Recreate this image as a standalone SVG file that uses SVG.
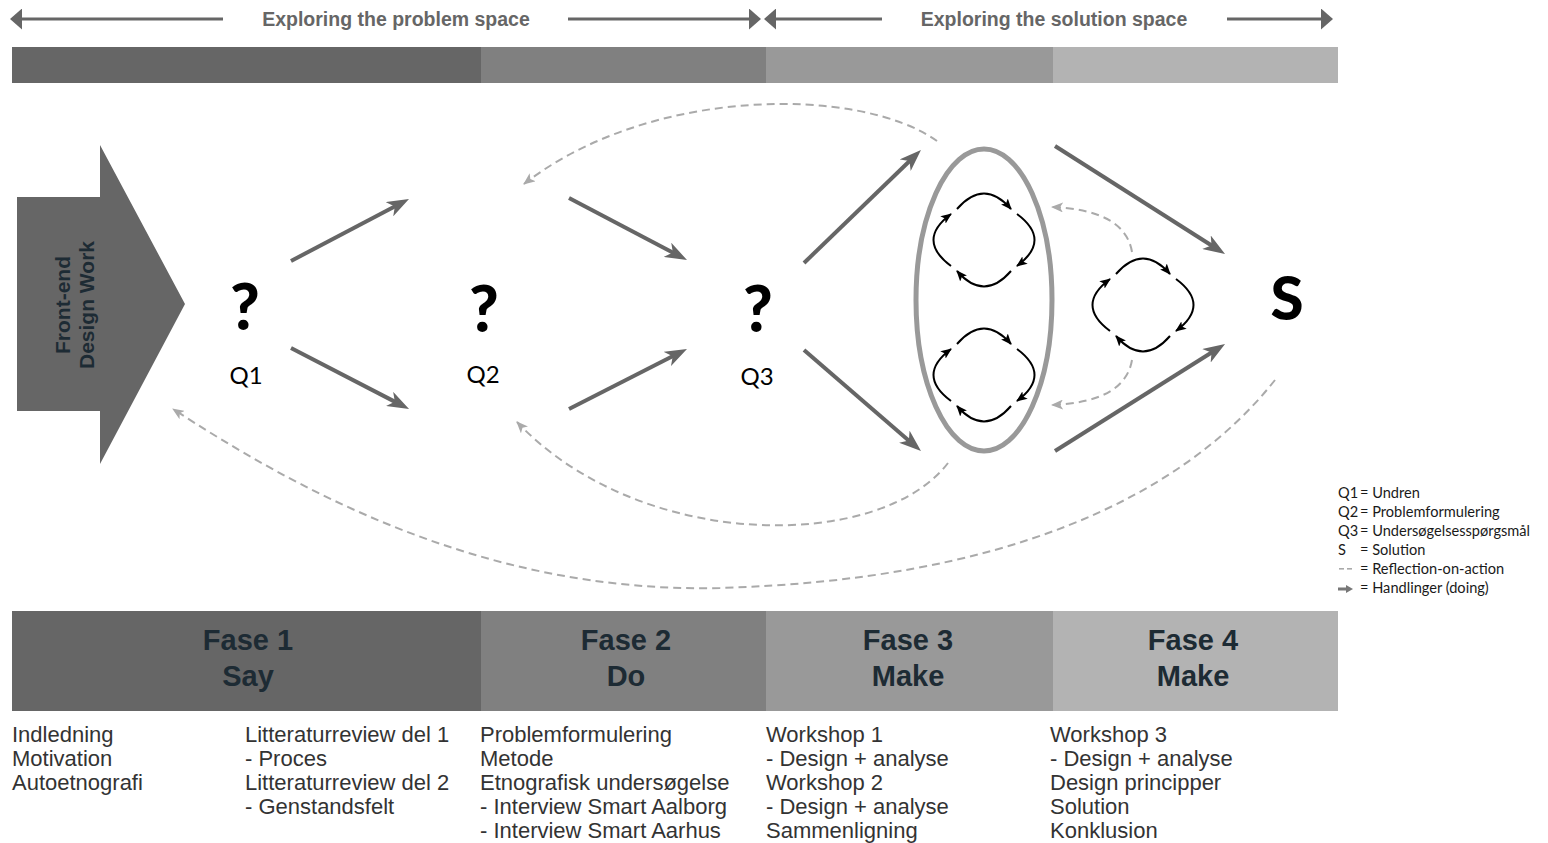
<svg xmlns="http://www.w3.org/2000/svg" width="1548" height="843" viewBox="0 0 1548 843">
  <style>
    .sans { font-family: "Liberation Sans", Arial, sans-serif; }
    .cal { font-family: Lato, "Open Sans", sans-serif; }
    .hdr { font-size: 19.5px; font-weight: bold; fill: #666666; }
    .phase { font-size: 29px; font-weight: bold; fill: #1d2b34; text-anchor: middle; }
    .body { font-size: 22px; fill: #333333; }
    .q { font-size: 64px; font-weight: 900; fill: #000; text-anchor: middle; }
    .ql { font-size: 24px; fill: #000; text-anchor: middle; }
    .leg { font-size: 14.6px; fill: #1a1a1a; }
    .act { stroke: #666666; stroke-width: 4; fill: none; marker-end: url(#headAct); }
    .refl { stroke: #aaaaaa; stroke-width: 2; fill: none; stroke-dasharray: 8 5; marker-end: url(#headRefl); }
    .loop path { stroke: #000; stroke-width: 2; fill: none; marker-end: url(#headLoop); }
    .span { stroke: #666666; stroke-width: 3; }
  </style>
  <defs>
    <!-- heavy action arrowhead (notched) -->
    <marker id="headAct" viewBox="0 0 22 16" refX="8" refY="8" markerWidth="22" markerHeight="16" markerUnits="userSpaceOnUse" orient="auto">
      <path d="M0,0 L22,8 L0,16 L6,8 Z" fill="#666666"/>
    </marker>
    <!-- reflection arrowhead -->
    <marker id="headRefl" viewBox="0 0 12 10" refX="11" refY="5" markerWidth="12" markerHeight="10" markerUnits="userSpaceOnUse" orient="auto">
      <path d="M0,0 L12,5 L0,10 L3,5 Z" fill="#aaaaaa"/>
    </marker>
    <!-- small loop arrowhead -->
    <marker id="headLoop" viewBox="0 0 11 9" refX="10" refY="4.5" markerWidth="11" markerHeight="9" markerUnits="userSpaceOnUse" orient="auto">
      <path d="M0,0 L11,4.5 L0,9 L2.5,4.5 Z" fill="#000"/>
    </marker>
    <!-- span arrowhead for the header -->
    <marker id="headSpan" viewBox="0 0 12 21" refX="6" refY="10.5" markerWidth="12" markerHeight="21" markerUnits="userSpaceOnUse" orient="auto-start-reverse">
      <path d="M0,0 L12,10.5 L0,21 Z" fill="#666666"/>
    </marker>
    <!-- iteration cycle: four arcs turning clockwise -->
    <g id="cycle" class="loop">
      <path d="M-27,-31 Q0,-62 27,-31"/>
      <path d="M33,-26 Q68,0 33,26"/>
      <path d="M27,31 Q0,62 -27,31"/>
      <path d="M-33,26 Q-68,0 -33,-26"/>
    </g>
  </defs>

  <rect width="1548" height="843" fill="#ffffff"/>

  <!-- header: problem / solution space -->
  <g id="header">
    <line class="span" x1="16" y1="19" x2="223" y2="19" marker-start="url(#headSpan)"/>
    <line class="span" x1="568" y1="19" x2="755" y2="19" marker-end="url(#headSpan)"/>
    <line class="span" x1="770" y1="19" x2="882" y2="19" marker-start="url(#headSpan)"/>
    <line class="span" x1="1227" y1="19" x2="1327" y2="19" marker-end="url(#headSpan)"/>
    <text class="sans hdr" x="396" y="26" text-anchor="middle">Exploring the problem space</text>
    <text class="sans hdr" x="1054" y="26" text-anchor="middle">Exploring the solution space</text>
  </g>

  <!-- top phase band -->
  <g id="band">
    <rect x="12" y="47" width="469" height="36" fill="#666666"/>
    <rect x="481" y="47" width="285" height="36" fill="#808080"/>
    <rect x="766" y="47" width="287" height="36" fill="#999999"/>
    <rect x="1053" y="47" width="285" height="36" fill="#b3b3b3"/>
  </g>

  <!-- front-end design work block arrow -->
  <g id="frontend">
    <path d="M17,197 L100,197 L100,145 L185,304 L100,464 L100,411 L17,411 Z" fill="#666666"/>
    <text class="sans" font-size="21" font-weight="bold" fill="#1d2b34" text-anchor="middle" transform="translate(70,305) rotate(-90)">Front-end</text>
    <text class="sans" font-size="21" font-weight="bold" fill="#1d2b34" text-anchor="middle" transform="translate(94,305) rotate(-90)">Design Work</text>
  </g>

  <!-- questions and solution -->
  <g id="q1">
    <text class="cal q" x="245" y="330">?</text>
    <text class="cal ql" x="246" y="384">Q1</text>
  </g>
  <g id="q2">
    <text class="cal q" x="484" y="332">?</text>
    <text class="cal ql" x="483" y="383">Q2</text>
  </g>
  <g id="q3">
    <text class="cal q" x="758" y="332">?</text>
    <text class="cal ql" x="757" y="385">Q3</text>
  </g>
  <g id="s">
    <text class="cal" x="1287" y="320" font-size="60" font-weight="900" text-anchor="middle">S</text>
  </g>

  <!-- iteration workshops -->
  <g id="workshops">
    <ellipse cx="984" cy="300" rx="68" ry="151" fill="none" stroke="#999999" stroke-width="5"/>
    <use href="#cycle" transform="translate(984,240)"/>
    <use href="#cycle" transform="translate(984,375)"/>
  </g>
  <g id="workshop3">
    <use href="#cycle" transform="translate(1143,305)"/>
  </g>

  <!-- connectors -->
  <g id="connectors">
    <!-- actions (doing) -->
    <line class="act" x1="291" y1="261" x2="396.6" y2="205.5"/>
    <line class="act" x1="291" y1="348" x2="396.6" y2="402.6"/>
    <line class="act" x1="569" y1="198" x2="674.6" y2="253.5"/>
    <line class="act" x1="569" y1="409" x2="674.5" y2="355.3"/>
    <line class="act" x1="804" y1="263" x2="910.9" y2="159.7"/>
    <line class="act" x1="804" y1="350" x2="910.4" y2="441.9"/>
    <line class="act" x1="1055" y1="146" x2="1213.2" y2="246.5"/>
    <line class="act" x1="1055" y1="451" x2="1213.2" y2="351.5"/>
    <!-- reflection-on-action -->
    <path class="refl" d="M937,141 C860,86 650,86 524,184"/>
    <path class="refl" d="M948,463 C880,552 640,552 517,422"/>
    <path class="refl" d="M1275,380 C1180,500 1000,580 720,588 C480,594 290,485 173,409"/>
    <path class="refl" d="M1132,252 Q1125,210 1052,207"/>
    <path class="refl" d="M1132,360 Q1125,402 1052,405"/>
  </g>

  <!-- legend -->
  <g id="legend" class="cal leg">
    <text x="1338" y="498">Q1</text><text x="1360" y="498">= Undren</text>
    <text x="1338" y="517">Q2</text><text x="1360" y="517">= Problemformulering</text>
    <text x="1338" y="536">Q3</text><text x="1360" y="536">= Undersøgelsesspørgsmål</text>
    <text x="1338" y="555">S</text><text x="1360" y="555">= Solution</text>
    <rect x="1339" y="568" width="5" height="1.6" fill="#aaaaaa"/>
    <rect x="1347" y="568" width="5" height="1.6" fill="#aaaaaa"/>
    <text x="1360" y="574">= Reflection-on-action</text>
    <path d="M1338,587.5 L1346,587.5 L1346,585 L1353,589 L1346,593 L1346,590.5 L1338,590.5 Z" fill="#777777"/>
    <text x="1360" y="593">= Handlinger (doing)</text>
  </g>

  <!-- phase boxes -->
  <g id="fase1">
    <rect x="12" y="611" width="469" height="100" fill="#666666"/>
    <text class="sans phase" x="248" y="650">Fase 1</text>
    <text class="sans phase" x="248" y="686">Say</text>
  </g>
  <g id="fase2">
    <rect x="481" y="611" width="285" height="100" fill="#808080"/>
    <text class="sans phase" x="626" y="650">Fase 2</text>
    <text class="sans phase" x="626" y="686">Do</text>
  </g>
  <g id="fase3">
    <rect x="766" y="611" width="287" height="100" fill="#999999"/>
    <text class="sans phase" x="908" y="650">Fase 3</text>
    <text class="sans phase" x="908" y="686">Make</text>
  </g>
  <g id="fase4">
    <rect x="1053" y="611" width="285" height="100" fill="#b3b3b3"/>
    <text class="sans phase" x="1193" y="650">Fase 4</text>
    <text class="sans phase" x="1193" y="686">Make</text>
  </g>

  <!-- chapter contents -->
  <g id="contents" class="sans body">
    <text x="12" y="742">Indledning</text>
    <text x="12" y="766">Motivation</text>
    <text x="12" y="790">Autoetnografi</text>

    <text x="245" y="742">Litteraturreview del 1</text>
    <text x="245" y="766">- Proces</text>
    <text x="245" y="790">Litteraturreview del 2</text>
    <text x="245" y="814">- Genstandsfelt</text>

    <text x="480" y="742">Problemformulering</text>
    <text x="480" y="766">Metode</text>
    <text x="480" y="790">Etnografisk undersøgelse</text>
    <text x="480" y="814">- Interview Smart Aalborg</text>
    <text x="480" y="838">- Interview Smart Aarhus</text>

    <text x="766" y="742">Workshop 1</text>
    <text x="766" y="766">- Design + analyse</text>
    <text x="766" y="790">Workshop 2</text>
    <text x="766" y="814">- Design + analyse</text>
    <text x="766" y="838">Sammenligning</text>

    <text x="1050" y="742">Workshop 3</text>
    <text x="1050" y="766">- Design + analyse</text>
    <text x="1050" y="790">Design principper</text>
    <text x="1050" y="814">Solution</text>
    <text x="1050" y="838">Konklusion</text>
  </g>
</svg>
